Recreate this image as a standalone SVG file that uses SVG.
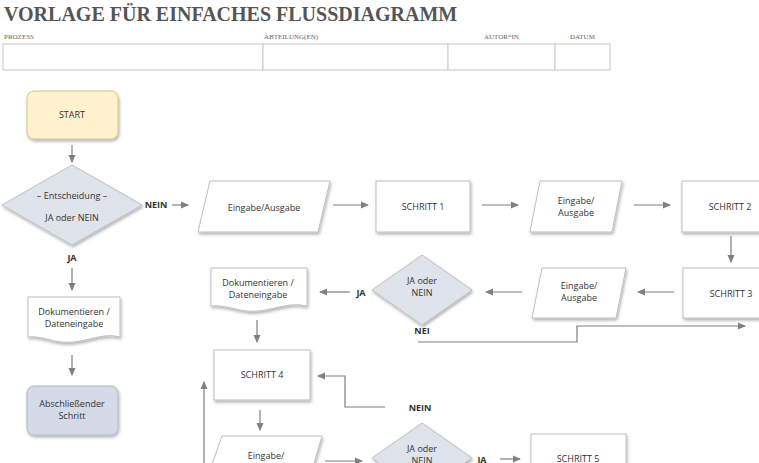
<svg xmlns="http://www.w3.org/2000/svg" width="759" height="463" viewBox="0 0 759 463">
<defs>
<filter id="sh" x="-20%" y="-20%" width="140%" height="150%"><feDropShadow dx="1" dy="2" stdDeviation="1.5" flood-color="#000" flood-opacity="0.3"/></filter>
<marker id="ar" markerWidth="8" markerHeight="8" refX="7" refY="4" orient="auto" markerUnits="userSpaceOnUse"><path d="M0,0.5 L8,4 L0,7.5 z" fill="#7f7f7f"/></marker>
</defs>
<style>
.t{font-family:"Open Sans","Noto Sans",sans-serif;font-size:9px;fill:#333;text-anchor:middle}
.b{font-family:"Open Sans","Noto Sans",sans-serif;font-size:9px;font-weight:bold;fill:#333;text-anchor:middle}
.h{font-family:"Liberation Serif",serif;font-size:7px;fill:#666}
.n{fill:#fff;stroke:#bfbfbf;stroke-width:1;filter:url(#sh)}
.d{fill:#dfe3ec;stroke:#bfbfbf;stroke-width:1;filter:url(#sh)}
.c{fill:none;stroke:#7f7f7f;stroke-width:1.2;marker-end:url(#ar)}
.cell{fill:#fff;stroke:#d0d0d0;stroke-width:1.2}
</style>
<rect width="759" height="463" fill="#fff"/>
<text x="4" y="21" font-family="Liberation Serif,serif" font-size="20" font-weight="bold" fill="#555">VORLAGE FÜR EINFACHES FLUSSDIAGRAMM</text>
<text class="h" x="4" y="39">PROZESS</text>
<text class="h" x="264" y="39">ABTEILUNG(EN)</text>
<text class="h" x="484" y="39">AUTOR*IN</text>
<text class="h" x="570" y="39">DATUM</text>
<rect class="cell" x="3" y="44" width="260" height="26"/>
<rect class="cell" x="263" y="44" width="185" height="26"/>
<rect class="cell" x="448" y="44" width="107" height="26"/>
<rect class="cell" x="555" y="44" width="55" height="26"/>

<g id="start"><rect x="27" y="91" width="91" height="48" rx="7" fill="#fff2cc" stroke="#d9c08a" filter="url(#sh)"/><text class="t" x="72" y="118">START</text></g>
<g id="dec1"><polygon class="d" points="72,165 142,205 72,245 2,205"/><text class="t" x="72" y="199">– Entscheidung –</text><text class="t" x="72" y="221">JA oder NEIN</text></g>
<g id="io1"><polygon class="n" points="210,181 330,181 318,232 198,232"/><text class="t" x="264" y="211">Eingabe/Ausgabe</text></g>
<g id="s1"><rect class="n" x="376" y="181" width="94" height="51"/><text class="t" x="423" y="210">SCHRITT 1</text></g>
<g id="io2"><polygon class="n" points="540,181 622,181 612,232 530,232"/><text class="t" x="576" y="204">Eingabe/</text><text class="t" x="576" y="216">Ausgabe</text></g>
<g id="s2"><rect class="n" x="682" y="181" width="90" height="51"/><text class="t" x="730" y="210">SCHRITT 2</text></g>
<g id="s3"><rect class="n" x="683" y="268" width="90" height="50"/><text class="t" x="731" y="297">SCHRITT 3</text></g>
<g id="io3"><polygon class="n" points="542,268 626,268 616,318 532,318"/><text class="t" x="579" y="289">Eingabe/</text><text class="t" x="579" y="301">Ausgabe</text></g>
<g id="dec2"><polygon class="d" points="422,255 472,290 422,325 372,290"/><text class="t" x="422" y="284">JA oder</text><text class="t" x="422" y="296">NEIN</text></g>
<g id="doc2"><path class="n" d="M211,268 H307 V306 C285,300 265,316 240,310 C228,307 218,305 211,306 Z"/><text class="t" x="258" y="286">Dokumentieren /</text><text class="t" x="258" y="298">Dateneingabe</text></g>
<g id="s4"><rect class="n" x="214" y="350" width="96" height="50"/><text class="t" x="262" y="378">SCHRITT 4</text></g>
<g id="io4"><polygon class="n" points="222,436 322,436 312,470 210,470"/><text class="t" x="266" y="459">Eingabe/</text></g>
<g id="dec3"><polygon class="d" points="422,423 472,458 422,493 372,458"/><text class="t" x="422" y="452">JA oder</text><text class="t" x="422" y="464">NEIN</text></g>
<g id="s5"><rect class="n" x="531" y="434" width="95" height="50"/><text class="t" x="578" y="462">SCHRITT 5</text></g>
<g id="doc1"><path class="n" d="M28,297 H120 V337 C100,331 80,347 55,341 C43,338 35,336 28,337 Z"/><text class="t" x="74" y="315">Dokumentieren /</text><text class="t" x="74" y="327">Dateneingabe</text></g>
<g id="end"><rect x="27" y="386" width="91" height="49" rx="7" fill="#d6dae6" stroke="#b0b6c6" filter="url(#sh)"/><text class="t" x="72" y="407">Abschließender</text><text class="t" x="72" y="419">Schritt</text></g>

<g id="labels">
<text class="b" x="156" y="208">NEIN</text>
<text class="b" x="72" y="261">JA</text>
<text class="b" x="361" y="296">JA</text>
<text class="b" x="422" y="334">NEI</text>
<text class="b" x="420" y="411">NEIN</text>
<text class="b" x="482" y="463">JA</text>
</g>
<g id="connectors">
<path class="c" d="M72,145 V162"/>
<path class="c" d="M172,205 H188"/>
<path class="c" d="M333,205 H368"/>
<path class="c" d="M482,205 H518"/>
<path class="c" d="M634,205 H670"/>
<path class="c" d="M731,236 V262"/>
<path class="c" d="M674,292 H638"/>
<path class="c" d="M522,292 H486"/>
<path class="c" d="M350,292 H320"/>
<path class="c" d="M418,342 H577 V326 H745"/>
<path class="c" d="M257,320 V342"/>
<path class="c" d="M385,407 H345 V376 H318"/>
<path class="c" d="M260,410 V430"/>
<path class="c" d="M325,461 H362"/>
<path class="c" d="M500,459 H520"/>
<path class="c" d="M204,463 V382"/>
<path class="c" d="M72,268 V290"/>
<path class="c" d="M72,355 V375"/>
</g>
</svg>
